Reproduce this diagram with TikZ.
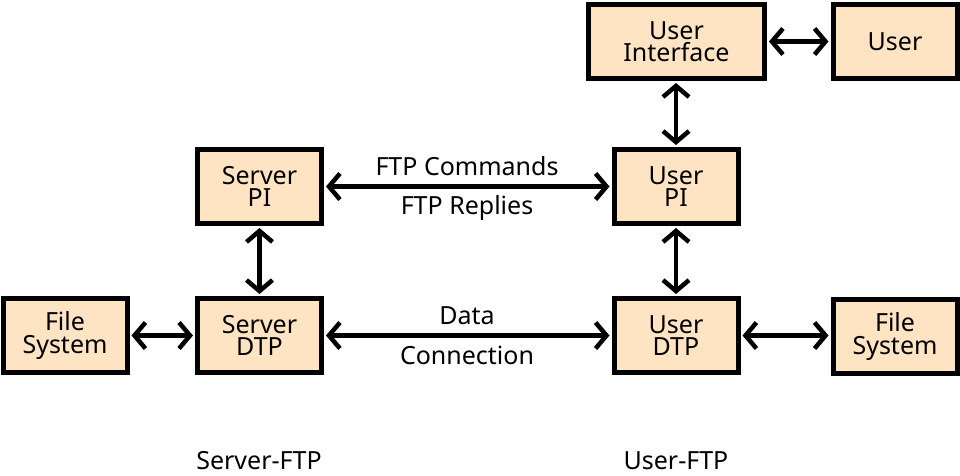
\documentclass[tikz,border=0pt]{standalone}
\usepackage{fontspec}
\setmainfont{Noto Sans}
\usetikzlibrary{arrows.meta}
\definecolor{boxfill}{HTML}{FFE4C4}
\tikzset{
  blk/.style={draw=black, fill=boxfill, line width=5pt, minimum width=124pt, minimum height=74pt, align=center, inner sep=0pt, font=\fontsize{25}{22.5}\selectfont},
  conn/.style={line width=4.5pt, {Straight Barb[length=11pt,width=26pt,line width=4.5pt]}-{Straight Barb[length=11pt,width=26pt,line width=4.5pt]}, shorten <=2pt, shorten >=2pt},
  lbl/.style={font=\fontsize{25}{28}\selectfont, inner sep=0pt}
}
\begin{document}
\begin{tikzpicture}[x=1pt,y=-1pt]
\useasboundingbox (0,0) rectangle (960,475);
\node[blk, minimum width=176pt] (ui) at (676.5,41.5) {User\\Interface};
\node[blk] (user) at (895,41.5) {User};
\node[blk] (spi) at (259.5,186.5) {Server\\PI};
\node[blk] (upi) at (676,186.5) {User\\PI};
\node[blk] (fs1) at (65,335.5) {File\\System};
\node[blk] (sdtp) at (259.5,335.5) {Server\\DTP};
\node[blk] (udtp) at (676,335.5) {User\\DTP};
\node[blk] (fs2) at (895,336.5) {File\\System};
\draw[conn] (ui) -- (user);
\draw[conn] (ui.south -| upi) -- (upi.north);
\draw[conn] (spi) -- (upi);
\draw[conn] (spi) -- (sdtp);
\draw[conn] (upi) -- (udtp);
\draw[conn] (fs1) -- (sdtp);
\draw[conn] (sdtp) -- (udtp);
\draw[conn] (udtp) -- (fs2.west |- udtp.east);
\node[lbl] (cmd) at (467,166) {FTP Commands};
\node[lbl] (rep) at (467,208) {FTP Replies};
\node[lbl] (data) at (467,316) {Data};
\node[lbl] (con) at (467,355) {Connection};
\node[lbl] (sftp) at (259,461) {Server-FTP};
\node[lbl] (uftp) at (676,461) {User-FTP};
\end{tikzpicture}
\end{document}
